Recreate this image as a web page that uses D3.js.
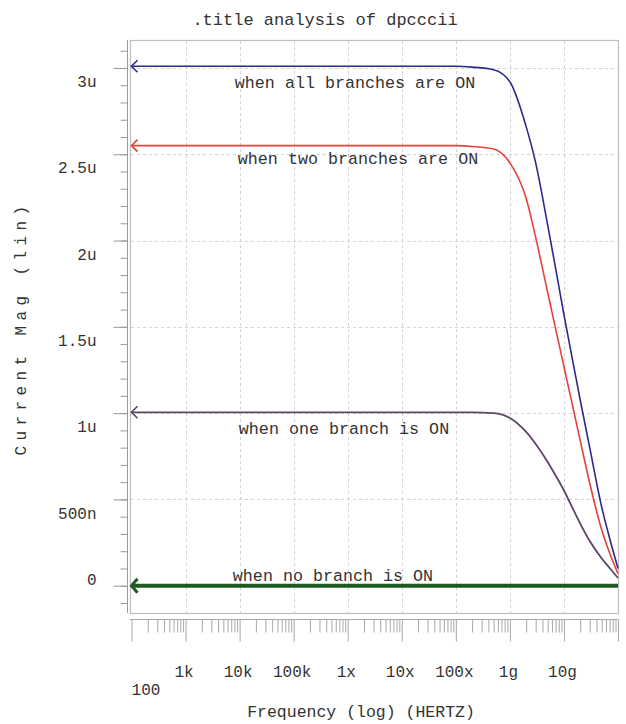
<!DOCTYPE html>
<html>
<head>
<meta charset="utf-8">
<script src="https://cdn.jsdelivr.net/npm/d3@7/dist/d3.min.js"></script>
<style>
  html, body { margin: 0; padding: 0; background: #fff; }
  svg { display: block; }
  text { font-family: "Liberation Mono", "Courier New", monospace; fill: #333; }
</style>
</head>
<body>
<svg id="chart" width="626" height="724"></svg>
<script>
// AC sweep frequencies (Hz)
const freqs = [1e2, 1e3, 1e4, 1e5, 1e6, 1e7, 1e8, 2e8, 5e8, 1e9, 2e9, 3e9, 5e9, 7e9,
               1e10, 1.5e10, 2e10, 3e10, 5e10, 7e10, 1e11];

// Output current magnitude (uA) for each branch configuration
const allOn  = [3.01, 3.01, 3.01, 3.01, 3.01, 3.01, 3.01, 3.005, 2.99, 2.92, 2.66, 2.45, 2.09, 1.84,
                1.57, 1.28, 1.076, 0.80, 0.455, 0.275, 0.10];
const twoOn  = [2.55, 2.55, 2.55, 2.55, 2.55, 2.55, 2.55, 2.545, 2.53, 2.45, 2.245, 2.018, 1.70, 1.49,
                1.27, 1.02, 0.841, 0.594, 0.323, 0.19, 0.07];
const oneOn  = [1.005, 1.005, 1.005, 1.005, 1.005, 1.005, 1.005, 1.005, 1.0, 0.972, 0.891, 0.821, 0.717, 0.639,
                0.552, 0.439, 0.360, 0.259, 0.158, 0.103, 0.045];
const noneOn = [0, 0, 0, 0, 0, 0, 0, 0, 0, 0, 0, 0, 0, 0, 0, 0, 0, 0, 0, 0, 0];

const seriesNames = ["when all branches are ON", "when two branches are ON",
                     "when one branch is ON", "when no branch is ON"];
const seriesColors = ["#2b2b8e", "#e5413d", "#5c4663", "#1f5a22"];

// Axis tick labels
const yTickValues = [0, 0.5, 1, 1.5, 2, 2.5, 3];
const yTickLabels = ["0", "500n", "1u", "1.5u", "2u", "2.5u", "3u"];
const xTickValues = [1e2, 1e3, 1e4, 1e5, 1e6, 1e7, 1e8, 1e9, 1e10];
const xTickLabels = ["100", "1k", "10k", "100k", "1x", "10x", "100x", "1g", "10g"];

const svg = d3.select("#chart");

const box = { left: 130, right: 618, top: 40, bottom: 613 };

const x = d3.scaleLog().domain([1e2, 1e11]).range([131.5, 618]);
const y = d3.scaleLinear().domain([-0.158, 3.162]).range([613, 40]);

// plot frame
svg.append("rect")
  .attr("x", box.left + 0.5).attr("y", box.top + 0.5)
  .attr("width", box.right - box.left).attr("height", box.bottom - box.top)
  .attr("fill", "none").attr("stroke", "#bdbdbd").attr("stroke-width", 1.2);

// dashed grid
const grid = svg.append("g").attr("stroke", "#d4d4d4").attr("stroke-dasharray", "3,3").attr("stroke-width", 1);
grid.selectAll("line.v").data(xTickValues.slice(1)).join("line")
  .attr("x1", d => Math.round(x(d)) + 0.5).attr("x2", d => Math.round(x(d)) + 0.5)
  .attr("y1", box.top + 1).attr("y2", box.bottom);
grid.selectAll("line.h").data(yTickValues.slice(1)).join("line")
  .attr("y1", d => Math.round(y(d)) + 0.5).attr("y2", d => Math.round(y(d)) + 0.5)
  .attr("x1", box.left + 1).attr("x2", box.right);

// y axis: minor ticks every 100n, major every 500n
const yMinor = d3.range(-1, 32).map(i => i / 10);
const yMinorAxis = d3.axisLeft(y).tickValues(yMinor).tickSize(7).tickSizeOuter(0).tickFormat("");
const gyMinor = svg.append("g").attr("transform", "translate(127.5,0)").call(yMinorAxis);
gyMinor.select(".domain").attr("stroke", "#9a9a9a").attr("d", `M0,${box.top}V${box.bottom}`);
gyMinor.selectAll(".tick line").attr("stroke", "#9a9a9a");

const yMajorAxis = d3.axisLeft(y).tickValues(yTickValues).tickSize(14).tickSizeOuter(0)
  .tickFormat((d, i) => yTickLabels[i]);
const gy = svg.append("g").attr("transform", "translate(127.5,0)").call(yMajorAxis);
gy.select(".domain").remove();
gy.selectAll(".tick line").attr("stroke", "#9a9a9a");
gy.selectAll(".tick text")
  .attr("x", -31)
  .attr("dy", (d, i) => i === 0 ? "-0.05em" : "1.17em")
  .style("font-family", "'Liberation Mono', monospace")
  .style("font-size", "16px")
  .attr("fill", "#444");

// x axis strip under the frame: decades and 2..9 minor ticks
const xMinor = [];
xTickValues.forEach(dec => { for (let k = 2; k <= 9; k++) xMinor.push(dec * k); });
const strip = 619.5;
const xMinorAxis = d3.axisBottom(x).tickValues(xMinor).tickSize(13).tickSizeOuter(0).tickFormat("");
const gxMinor = svg.append("g").attr("transform", `translate(0,${strip})`).call(xMinorAxis);
gxMinor.select(".domain").attr("stroke", "#a8a8a8").attr("d", `M${box.left},0H${box.right}`);
gxMinor.selectAll(".tick line").attr("stroke", "#a8a8a8");

const xMajorAxis = d3.axisBottom(x).tickValues(xTickValues.concat([1e11])).tickSize(22).tickSizeOuter(0)
  .tickFormat((d, i) => xTickLabels[i] || "");
const gx = svg.append("g").attr("transform", `translate(0,${strip})`).call(xMajorAxis);
gx.select(".domain").remove();
gx.selectAll(".tick line").attr("stroke", "#a8a8a8");
gx.selectAll(".tick text")
  .style("font-family", "'Liberation Mono', monospace")
  .style("font-size", "16px")
  .attr("fill", "#333")
  .attr("x", (d, i) => i === 0 ? 14 : -2)
  .attr("y", (d, i) => i === 0 ? 75.5 : 57)
  .attr("dy", 0);

// curves
const series = [allOn, twoOn, oneOn, noneOn];
const line = d3.line()
  .x((d, i) => x(freqs[i]))
  .y(d => y(d))
  .curve(d3.curveMonotoneX);

const widths = [1.6, 1.6, 1.8, 4];
series.forEach((vals, s) => {
  svg.append("path")
    .datum(vals)
    .attr("d", line)
    .attr("fill", "none")
    .attr("stroke", seriesColors[s])
    .attr("stroke-width", widths[s]);
  // open arrowhead at the start of each trace
  const x0 = x(freqs[0]), y0 = y(vals[0]);
  const h = s === 3 ? 7 : 6;
  svg.append("path")
    .attr("d", `M${x0 + 6},${y0 - h}L${x0},${y0}L${x0 + 6},${y0 + h}`)
    .attr("fill", "none")
    .attr("stroke", seriesColors[s])
    .attr("stroke-width", s === 3 ? 3 : 1.6);
});

// trace annotations
const notes = [
  { text: seriesNames[0], cx: 355, cy: 87.5 },
  { text: seriesNames[1], cx: 358, cy: 164 },
  { text: seriesNames[2], cx: 344, cy: 433.5 },
  { text: seriesNames[3], cx: 333, cy: 580.5 }
];
svg.append("g").selectAll("text").data(notes).join("text")
  .attr("x", d => d.cx).attr("y", d => d.cy)
  .attr("text-anchor", "middle")
  .style("font-size", "16.7px")
  .attr("fill", "#333")
  .text(d => d.text);

// title and axis titles
svg.append("text")
  .attr("x", 325).attr("y", 25)
  .attr("text-anchor", "middle")
  .style("font-size", "17px")
  .text(".title analysis of dpcccii");

svg.append("text")
  .attr("x", 361).attr("y", 717)
  .attr("text-anchor", "middle")
  .style("font-size", "16.5px")
  .text("Frequency (log) (HERTZ)");

svg.append("text")
  .attr("transform", "translate(26,328) rotate(-90)")
  .attr("text-anchor", "middle")
  .style("font-size", "16px")
  .style("letter-spacing", "5.4px")
  .attr("fill", "#444")
  .text("Current Mag (lin)");
</script>
</body>
</html>
